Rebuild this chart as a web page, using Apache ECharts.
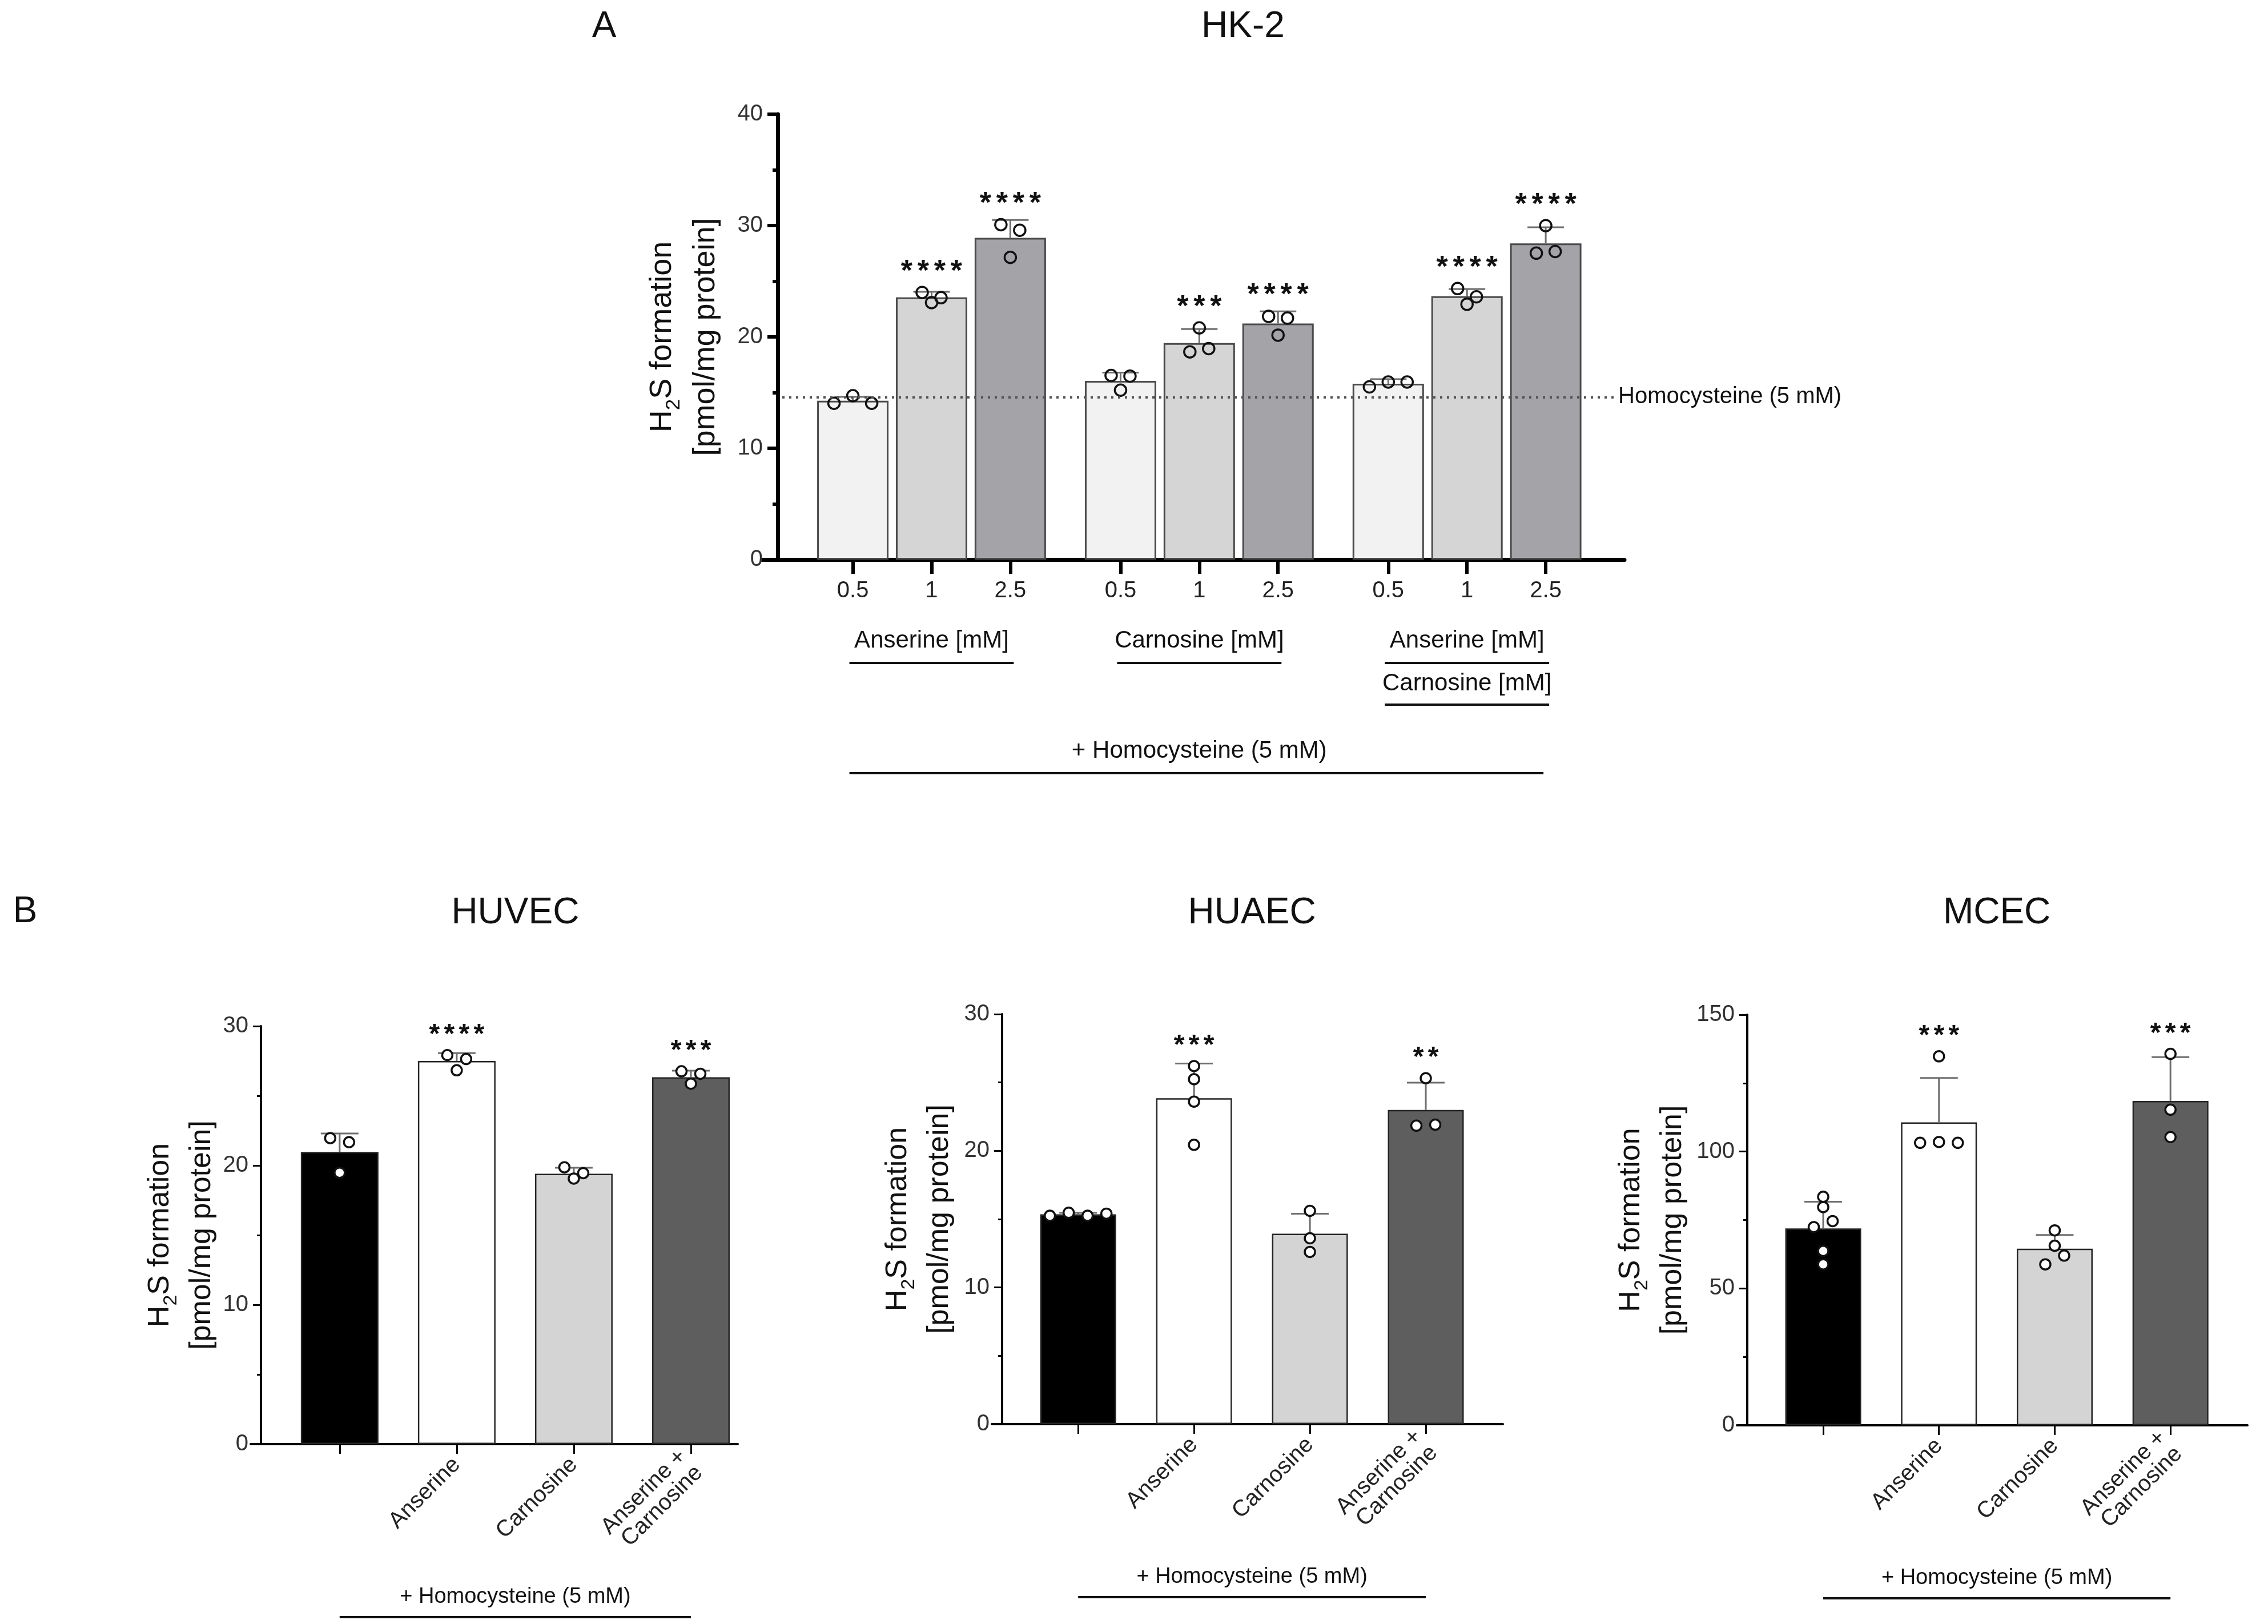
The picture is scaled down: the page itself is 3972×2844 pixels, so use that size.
<!DOCTYPE html>
<html><head><meta charset="utf-8">
<script src="https://cdn.jsdelivr.net/npm/echarts@6/dist/echarts.min.js"></script>
<style>html,body{margin:0;padding:0;background:#fff}#c{width:3972px;height:2844px}</style>
</head><body><div id="c"></div>
<script>
// ---------------- DATA ----------------
// Panel A: HK-2
const hk2Doses = ['0.5', '1', '2.5'];
const hk2Groups = [['Anserine [mM]'], ['Carnosine [mM]'], ['Anserine [mM]', 'Carnosine [mM]']];
const hk2Means = [14.27, 23.55, 28.90, 16.05, 19.45, 21.20, 15.80, 23.65, 28.40];
const hk2SD = [0.35, 0.50, 1.60, 0.75, 1.25, 1.10, 0.40, 0.65, 1.45];
const hk2Points = [
  [14.04, 14.72, 14.04], [23.99, 23.08, 23.52], [30.08, 29.58, 27.14],
  [16.54, 16.48, 15.22], [20.81, 18.66, 18.95], [21.84, 21.69, 20.16],
  [15.51, 15.95, 15.95], [24.34, 23.60, 22.93], [29.99, 27.52, 27.67]
];
const hk2Stars = ['', '****', '****', '', '***', '****', '', '****', '****'];
const hk2Baseline = 14.6;
const hk2BaselineLabel = 'Homocysteine (5 mM)';
const hk2YMax = 40, hk2YStep = 10;

// Panel B
const bCategories = ['', 'Anserine', 'Carnosine', 'Anserine +\nCarnosine'];
const bTreatment = '+ Homocysteine (5 mM)';
const huvecMeans = [20.97, 27.50, 19.41, 26.33];
const huvecSD = [1.33, 0.56, 0.43, 0.47];
const huvecPoints = [[21.96, 21.67, 19.48], [27.92, 27.64, 26.83], [19.87, 19.06, 19.45], [26.76, 26.58, 25.87]];
const huvecStars = ['', '****', '', '***'];
const huvecYMax = 30, huvecYStep = 10;

const huaecMeans = [15.36, 23.85, 13.93, 22.99];
const huaecSD = [0.10, 2.54, 1.47, 2.00];
const huaecPoints = [[15.25, 15.47, 15.25, 15.40], [26.20, 25.24, 23.60, 20.44], [15.61, 13.60, 12.60], [25.31, 21.84, 21.91]];
const huaecStars = ['', '***', '', '**'];
const huaecYMax = 30, huaecYStep = 10;

const mcecMeans = [71.9, 110.7, 64.5, 118.5];
const mcecSD = [9.8, 16.2, 5.0, 16.0];
const mcecPoints = [[83.5, 79.7, 72.4, 74.6, 63.7, 58.8], [134.8, 103.2, 103.5, 103.2], [71.2, 65.6, 58.8, 62.0], [135.7, 115.3, 105.3]];
const mcecStars = ['', '***', '', '***'];
const mcecYMax = 150, mcecYStep = 50;

// ---------------- LAYOUT / STYLE ----------------
const FONT = '"Liberation Sans", Arial, Helvetica, sans-serif';
const GROUP_STEP = 3.4;
const hk2Pos = hk2Means.map((_, i) => Math.floor(i / 3) * GROUP_STEP + (i % 3));
const bPos = bCategories.map((_, i) => i);

const panels = [
  { name: 'HK-2', left: 1335, top: 200, width: 1510, height: 780, xMin: -1.15, xMax: 9.8, yMax: hk2YMax, yStep: hk2YStep,
    yOffset: -27, axisW: 7, tickLen: 18, xTickLen: 25, barW: 125, capW: 64, dot: 20, hollow: true, starSize: 52, starPitch: 29, nameGap: 88,
    nameSize: 54, nameLH: 76, means: hk2Means, sd: hk2SD, pts: hk2Points, stars: hk2Stars, pos: hk2Pos,
    colors: hk2Means.map((_, i) => ['#f2f2f2', '#d5d5d5', '#a4a3a8'][i % 3]), border: '#4a4a4a', borderW: 3,
    labels: hk2Means.map((_, i) => hk2Doses[i % 3]), rotate: 0, labelMargin: 35, baseline: hk2Baseline },
  { name: 'HUVEC', left: 439, top: 1797, width: 853, height: 732, xMin: -0.76, xMax: 3.4, yMax: huvecYMax, yStep: huvecYStep,
    yOffset: -18, axisW: 4, tickLen: 14, xTickLen: 17, barW: 136, capW: 66, dot: 18, hollow: false, starSize: 48, starPitch: 26, nameGap: 67,
    nameSize: 52, nameLH: 73, means: huvecMeans, sd: huvecSD, pts: huvecPoints, stars: huvecStars, pos: bPos,
    colors: ['#000000', '#ffffff', '#d4d4d4', '#5e5e5e'], border: '#262626', borderW: 2.5, labels: bCategories, rotate: 45, labelMargin: 30 },
  { name: 'HUAEC', left: 1737, top: 1776, width: 895, height: 718, xMin: -0.745, xMax: 3.665, yMax: huaecYMax, yStep: huaecYStep,
    yOffset: -18, axisW: 4, tickLen: 14, xTickLen: 17, barW: 133, capW: 66, dot: 18, hollow: false, starSize: 48, starPitch: 26, nameGap: 73,
    nameSize: 52, nameLH: 73, means: huaecMeans, sd: huaecSD, pts: huaecPoints, stars: huaecStars, pos: bPos,
    colors: ['#000000', '#ffffff', '#d4d4d4', '#5e5e5e'], border: '#262626', borderW: 2.5, labels: bCategories, rotate: 45, labelMargin: 30 },
  { name: 'MCEC', left: 3042, top: 1777, width: 894, height: 719, xMin: -0.745, xMax: 3.665, yMax: mcecYMax, yStep: mcecYStep,
    yOffset: -18, axisW: 4, tickLen: 14, xTickLen: 17, barW: 133, capW: 66, dot: 18, hollow: false, starSize: 48, starPitch: 26, nameGap: 94,
    nameSize: 52, nameLH: 73, means: mcecMeans, sd: mcecSD, pts: mcecPoints, stars: mcecStars, pos: bPos,
    colors: ['#000000', '#ffffff', '#d4d4d4', '#5e5e5e'], border: '#262626', borderW: 2.5, labels: bCategories, rotate: 45, labelMargin: 30 }
];

// simple Prism-like dot arrangement: points within ~16px vertically share a row and are spread horizontally
function dotOffsets(values, pxPerUnit, spacing) {
  const order = values.map((v, i) => i).sort((a, b) => values[b] - values[a]);
  const rows = [];
  order.forEach(i => {
    const row = rows[rows.length - 1];
    if (row && (values[row[0]] - values[i]) * pxPerUnit < 16) row.push(i); else rows.push([i]);
  });
  const off = new Array(values.length).fill(0);
  rows.forEach(row => {
    row.sort((a, b) => a - b);
    row.forEach((i, k) => { off[i] = (k - (row.length - 1) / 2) * spacing; });
  });
  return off;
}

const grids = [], xAxes = [], yAxes = [], series = [];
panels.forEach((p, gi) => {
  grids.push({ left: p.left, top: p.top, width: p.width, height: p.height, containLabel: false });
  xAxes.push({
    type: 'value', gridIndex: gi, min: p.xMin, max: p.xMax, splitLine: { show: false },
    axisLine: { show: true, onZero: false, lineStyle: { color: '#000', width: p.axisW } },
    axisTick: { show: true, customValues: p.pos, length: p.xTickLen, lineStyle: { color: '#000', width: p.axisW - 1 } },
    axisLabel: {
      show: true, customValues: p.pos, rotate: p.rotate, margin: p.labelMargin, fontSize: 40, fontFamily: FONT, color: '#222',
      formatter: v => { const i = p.pos.findIndex(q => Math.abs(q - v) < 1e-6); return i >= 0 ? p.labels[i] : ''; }
    }
  });
  yAxes.push({
    type: 'value', gridIndex: gi, min: 0, max: p.yMax, interval: p.yStep, offset: p.yOffset,
    splitLine: { show: false },
    axisLine: { show: true, onZero: false, lineStyle: { color: '#000', width: p.axisW } },
    axisTick: { show: true, length: p.tickLen, lineStyle: { color: '#000', width: p.axisW - 1 } },
    minorTick: { show: true, splitNumber: 2, length: p.tickLen / 2, lineStyle: { color: '#000', width: p.axisW - 1 } },
    axisLabel: { fontSize: 40, fontFamily: FONT, color: '#333', margin: p.tickLen + 8 },
    name: '{t|H}{s|2}{t|S formation}\n{t|[pmol/mg protein]}',
    nameLocation: 'middle', nameRotate: 90, nameGap: p.nameGap, nameMoveOverlap: false,
    nameTextStyle: { rich: {
      t: { fontSize: p.nameSize, fontFamily: FONT, color: '#111', lineHeight: p.nameLH },
      s: { fontSize: Math.round(p.nameSize * 0.65), fontFamily: FONT, color: '#111', lineHeight: 36, verticalAlign: 'bottom' }
    } }
  });
  const pxPerUnit = p.height / p.yMax;
  const unitPx = p.width / (p.xMax - p.xMin);
  const maxPt = p.pts.map(a => Math.max(...a));
  const bar = {
    type: 'bar', xAxisIndex: gi, yAxisIndex: gi, barWidth: p.barW, z: 2,
    data: p.means.map((m, i) => ({ value: [p.pos[i], m], itemStyle: { color: p.colors[i] } })),
    itemStyle: { borderColor: p.border, borderWidth: p.borderW }
  };
  if (p.baseline !== undefined) {
    const xs = p.xMin + (-p.yOffset + 8) / unitPx;   // starts just right of the y axis line
    const xe = p.xMax - 17 / unitPx;
    bar.markLine = {
      silent: true, symbol: 'none', animation: false,
      lineStyle: { type: [4, 8], color: '#555', width: 4 },
      label: { show: true, position: 'end', formatter: hk2BaselineLabel, fontSize: 40, fontFamily: FONT, color: '#111', distance: 6 },
      data: [[{ coord: [xs, p.baseline] }, { coord: [xe, p.baseline] }]]
    };
  }
  series.push(bar);
  series.push({
    type: 'custom', xAxisIndex: gi, yAxisIndex: gi, z: 3,
    data: p.means.map((m, i) => [p.pos[i], m, p.sd[i], maxPt[i]]),
    encode: { x: 0, y: 1 },
    renderItem: (params, api) => {
      const x = api.value(0), m = api.value(1), sd = api.value(2), mx = api.value(3);
      const base = api.coord([x, m]);
      const top = api.coord([x, m + sd]);
      const ptTop = api.coord([x, mx])[1] - p.dot / 2;
      const st = { stroke: '#6e6e6e', lineWidth: 3 };
      const children = [
        { type: 'line', shape: { x1: base[0], y1: base[1], x2: top[0], y2: top[1] }, style: st },
        { type: 'line', shape: { x1: top[0] - p.capW / 2, y1: top[1], x2: top[0] + p.capW / 2, y2: top[1] }, style: st }
      ];
      const s = p.stars[params.dataIndex];
      const sy = Math.min(top[1], ptTop) - 26;
      for (let k = 0; k < s.length; k++) {
        children.push({ type: 'text', x: top[0] + (k - (s.length - 1) / 2) * p.starPitch, y: sy,
          style: { text: '*', fontSize: p.starSize, fontWeight: 'bold', fontFamily: FONT, fill: '#111', align: 'center', verticalAlign: 'middle' } });
      }
      return { type: 'group', children };
    }
  });
  const ptsData = [];
  p.pts.forEach((arr, i) => {
    const off = dotOffsets(arr, pxPerUnit, 33);
    arr.forEach((v, k) => ptsData.push({ value: [p.pos[i], v], symbolOffset: [off[k], 0] }));
  });
  series.push({
    type: 'scatter', xAxisIndex: gi, yAxisIndex: gi, z: 4, symbol: 'circle', symbolSize: p.dot,
    itemStyle: { color: p.hollow ? 'rgba(0,0,0,0)' : '#ffffff', borderColor: '#111', borderWidth: 3.5, opacity: 1 },
    data: ptsData
  });
});

const chart = echarts.init(document.getElementById('c'), null, { renderer: 'canvas' });
chart.setOption({ animation: false, backgroundColor: '#fff', grid: grids, xAxis: xAxes, yAxis: yAxes, series: series });

// ---------------- annotations (titles, group labels) ----------------
const g = [];
function txt(x, y, text, size, extra) {
  g.push({ type: 'text', x, y, silent: true, style: Object.assign({ text, fontSize: size, fontFamily: FONT, fill: '#111', align: 'center', verticalAlign: 'middle' }, extra || {}) });
}
function hline(x1, x2, y) {
  g.push({ type: 'line', silent: true, shape: { x1, y1: y, x2, y2: y }, style: { stroke: '#111', lineWidth: 4 } });
}
txt(1058, 47, 'A', 64);
txt(2177, 47, 'HK-2', 64);
txt(44, 1597, 'B', 64);
const px = (gi, x, y) => chart.convertToPixel({ gridIndex: gi }, [x, y]);
[1, 2, 3].forEach(gi => {
  const a = px(gi, 0, 0), b = px(gi, 3, 0);
  txt((a[0] + b[0]) / 2, 1599, panels[gi].name, 64);
});
const y0A = px(0, 0, 0)[1];
hk2Groups.forEach((lines, gIdx) => {
  const a = px(0, hk2Pos[gIdx * 3], 0)[0], b = px(0, hk2Pos[gIdx * 3 + 2], 0)[0];
  const c = (a + b) / 2;
  lines.forEach((ln, li) => {
    txt(c, y0A + 142 + li * 75, ln, 42);
    hline(a - 6, b + 6, y0A + 181 + li * 73);
  });
});
{
  const a = px(0, hk2Pos[0], 0)[0], b = px(0, hk2Pos[hk2Pos.length - 1], 0)[0];
  txt((a + b) / 2, y0A + 335, bTreatment, 42);
  hline(a - 6, b - 4, y0A + 374);
}
[1, 2, 3].forEach(gi => {
  const a = px(gi, 0, 0), b = px(gi, 3, 0);
  txt((a[0] + b[0]) / 2, a[1] + 268, bTreatment, 38);
  hline(a[0], b[0], a[1] + 303);
});
chart.setOption({ graphic: g });
</script></body></html>
